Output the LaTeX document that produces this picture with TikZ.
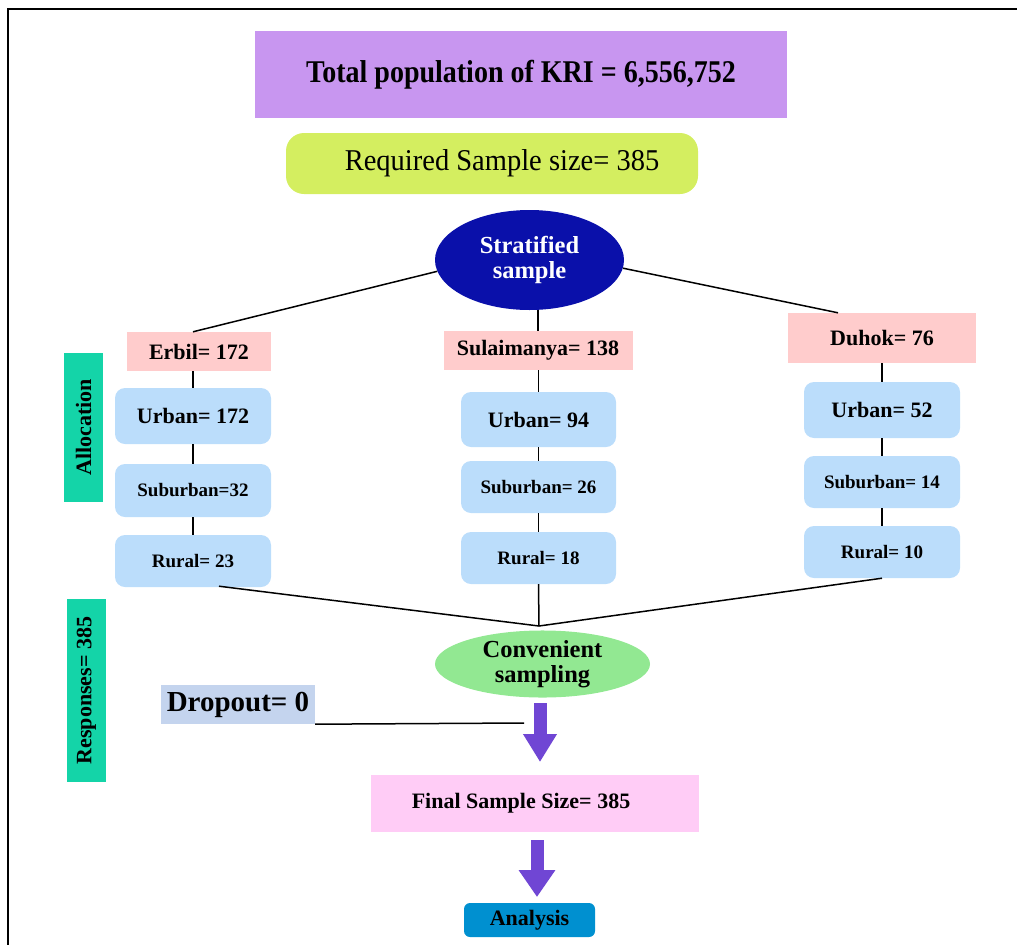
\documentclass[tikz,border=0pt]{standalone}
\usepackage{fontspec}
\setmainfont{Liberation Serif}
\usetikzlibrary{shapes.geometric,arrows.meta,calc}
\definecolor{titlec}{RGB}{200,150,240}
\definecolor{reqc}{RGB}{212,238,96}
\definecolor{stratc}{RGB}{10,16,170}
\definecolor{cityc}{RGB}{255,204,204}
\definecolor{areac}{RGB}{187,221,251}
\definecolor{convc}{RGB}{146,232,146}
\definecolor{dropc}{RGB}{196,212,238}
\definecolor{arrc}{RGB}{112,70,212}
\definecolor{finalc}{RGB}{255,204,246}
\definecolor{anac}{RGB}{0,144,208}
\definecolor{sidec}{RGB}{20,212,168}
\begin{document}
\begin{tikzpicture}[x=1pt,y=-1pt,
  box/.style={inner sep=0pt, align=center},
  citybox/.style={box, fill=cityc, minimum height=39pt, font=\fontsize{22}{24}\selectfont\bfseries},
  areabox/.style={box, fill=areac, rounded corners=10pt, minimum width=156pt, minimum height=54pt},
  bigarea/.style={font=\fontsize{22}{24}\selectfont\bfseries},
  smallarea/.style={font=\fontsize{19}{21}\selectfont\bfseries},
  sidebox/.style={box, fill=sidec, rotate=90, minimum height=39pt, font=\fontsize{22}{24}\selectfont\bfseries},
  ellipsebox/.style={ellipse, inner sep=0pt, align=center, font=\fontsize{24.5}{25}\selectfont\bfseries},
  link/.style={line width=1.5pt, black},
  blockarrow/.style={line width=13pt, arrc, -{Triangle[width=32pt,length=28pt]}}
]
\useasboundingbox (0,0) rectangle (1017,945);
% frame
\draw[line width=2.8pt] (1017,9) -- (8,9) -- (8,945);

% top boxes
\node[box, fill=titlec, minimum width=532pt, minimum height=87pt, font=\fontsize{28}{30}\selectfont\bfseries] (title) at (521,74.5) {\scalebox{1}[1.13]{Total population of KRI = 6,556,752}};
\node[box, fill=reqc, rounded corners=18pt, minimum width=412pt, minimum height=61pt, font=\fontsize{28.5}{30}\selectfont] (req) at (492,163.5) {\hspace*{20pt}\scalebox{1}[1.06]{Required Sample size= 385}};

% stratified
\node[ellipsebox, fill=stratc, text=white, minimum width=189pt, minimum height=100pt] (strat) at (529.5,260) {Stratified\\sample};

% cities
\node[citybox, minimum width=144pt] (erbil) at (199,351.5) {Erbil= 172};
\node[citybox, minimum width=189pt] (sul) at (538,350.5) {Sulaimanya= 138};
\node[citybox, minimum width=188pt, minimum height=50pt] (duh) at (882,338) {Duhok= 76};

% Erbil column
\node[areabox, bigarea, minimum height=56pt] (eu) at (193,416) {Urban= 172};
\node[areabox, smallarea, minimum height=53pt] (es) at (193,490.5) {Suburban=32};
\node[areabox, smallarea, minimum height=52pt] (er) at (193,561) {Rural= 23};
% Sulaimanya column
\node[areabox, bigarea, minimum height=55pt, minimum width=155pt] (su) at (538.5,419.5) {Urban= 94};
\node[areabox, smallarea, minimum height=52pt, minimum width=155pt] (ss) at (538.5,487) {Suburban= 26};
\node[areabox, smallarea, minimum height=52pt, minimum width=155pt] (sr) at (538.5,558) {Rural= 18};
% Duhok column
\node[areabox, bigarea, minimum height=56pt] (du) at (882,410) {Urban= 52};
\node[areabox, smallarea, minimum height=52pt] (ds) at (882,482) {Suburban= 14};
\node[areabox, smallarea, minimum height=52pt] (dr) at (882,552) {Rural= 10};

% side labels
\node[sidebox, minimum width=149pt] (alloc) at (83.5,427.5) {Allocation};
\node[sidebox, minimum width=183pt] (resp) at (86.5,690.5) {Responses= 385};

% convenient
\node[ellipsebox, fill=convc, minimum width=215pt, minimum height=62pt] (conv) at (542.5,664) {Convenient\\sampling};

% dropout
\node[box, fill=dropc, minimum width=154pt, minimum height=39pt, font=\fontsize{29}{31}\selectfont\bfseries] (drop) at (238,704.5) {Dropout= 0};

% final and analysis
\node[box, fill=finalc, minimum width=328pt, minimum height=57pt, font=\fontsize{22}{24}\selectfont\bfseries] (final) at (535,803.5) {Final Sample Size= 385\hspace*{28pt}};
\node[box, fill=anac, rounded corners=6pt, minimum width=131pt, minimum height=34pt, font=\fontsize{22}{24}\selectfont\bfseries] (ana) at (529.5,920) {Analysis};

% connectors
\draw[link] (strat.187) -- ($(erbil.north)+(-6,0)$);
\draw[link] (strat.-5) -- ($(duh.north)+(-44,0)$);
\draw[link] (strat.south -| sul.north) -- (sul.north);

\draw[link] (erbil.south -| eu.north) -- (eu.north);
\draw[link] (eu.south) -- (es.north);
\draw[link] (es.south) -- (er.north);
\draw[link] (sul.south -| su.north) -- (su.north);
\draw[link] (su.south) -- (ss.north);
\draw[link] (ss.south) -- (sr.north);
\draw[link] (duh.south) -- (du.north);
\draw[link] (du.south) -- (ds.north);
\draw[link] (ds.south) -- (dr.north);

\coordinate (m) at (539,626);
\draw[link] ($(er.south)+(26,-1)$) -- (m);
\draw[link] (sr.south) -- (m);
\draw[link] (dr.south) -- (m);

\coordinate (dl) at (524,723);
\draw[link] (drop.south east) -- (dl);

\coordinate (a1s) at (540,703);
\coordinate (a1e) at (540,762);
\coordinate (a2s) at (537,840);
\coordinate (a2e) at (537,897);
\draw[blockarrow] (a1s) -- (a1e);
\draw[blockarrow, -{Triangle[width=35pt,length=27pt]}] (a2s) -- (a2e);
\end{tikzpicture}
\end{document}
